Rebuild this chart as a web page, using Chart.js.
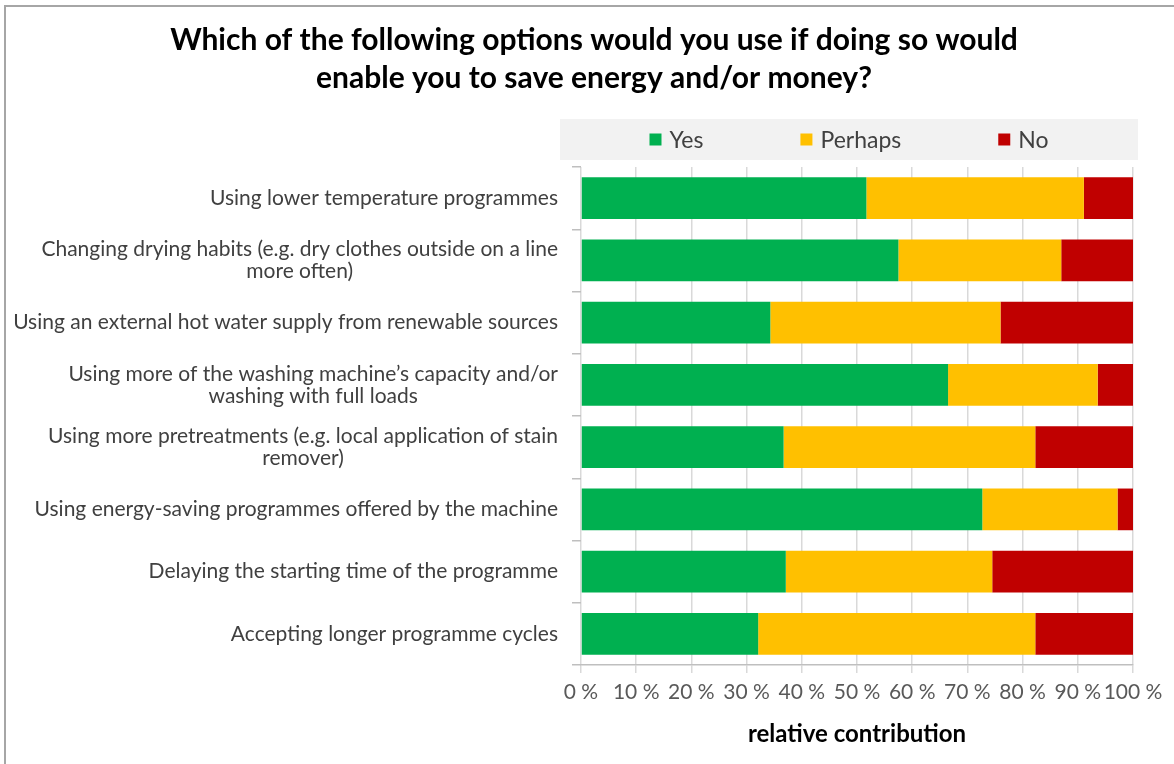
<!DOCTYPE html>
<html>
<head>
<meta charset="utf-8">
<script src="https://cdn.jsdelivr.net/npm/chart.js@4/dist/chart.umd.min.js"></script>
<style>
  html, body { margin: 0; padding: 0; background: #fff; }
  #wrap { width: 1174px; height: 764px; }
</style>
</head>
<body>
<div id="wrap"><canvas id="myChart" width="1174" height="764"></canvas></div>
<script>
const categories = [
    ["Using lower temperature programmes"],
    ["Changing drying habits (e.g. dry clothes outside on a line", "more often)"],
    ["Using an external hot water supply from renewable sources"],
    ["Using more of the washing machine\u2019s capacity and/or", "washing with full loads"],
    ["Using more pretreatments (e.g. local application of stain", "remover)"],
    ["Using energy-saving programmes offered by the machine"],
    ["Delaying the starting time of the programme"],
    ["Accepting longer programme cycles"]
];
const seriesNames = ["Yes", "Perhaps", "No"];
const yesValues = [51.7, 57.5, 34.3, 66.5, 36.7, 72.7, 37.1, 32.1];
const perhapsValues = [39.4, 29.5, 41.7, 27.1, 45.6, 24.5, 37.4, 50.2];
const noValues = [8.9, 13.0, 24.0, 6.4, 17.7, 2.8, 25.5, 17.7];
const xTicks = [0, 10, 20, 30, 40, 50, 60, 70, 80, 90, 100];

const colors = ["#00B050", "#FFC000", "#C00000"];
const FONT = "Lato, 'Liberation Sans', sans-serif";

// frame: only top + left edge visible in the picture
const framePlugin = {
    id: 'frame',
    beforeDraw(chart) {
        const c = chart.ctx;
        c.save();
        c.strokeStyle = '#a6a6a6';
        c.lineWidth = 2;
        c.beginPath();
        c.moveTo(5, 764);
        c.lineTo(5, 6);
        c.lineTo(1174, 6);
        c.stroke();
        c.restore();
    }
};

// legend band with grey fill, items spaced like the original
const bandLegend = {
    id: 'bandLegend',
    beforeDraw(chart) {
        const c = chart.ctx;
        const area = chart.chartArea;
        const left = area.left - 21, right = area.right + 5;
        const top = 119, bottom = 160;
        c.save();
        c.fillStyle = '#f2f2f2';
        c.fillRect(left, top, right - left, bottom - top);
        c.font = '23px ' + FONT;
        c.textBaseline = 'middle';
        const box = 12, gapText = 8, gapItem = 97;
        const widths = chart.data.datasets.map(ds => box + gapText + c.measureText(ds.label).width);
        const total = widths.reduce((a, b) => a + b, 0) + gapItem * (widths.length - 1);
        let x = (left + right) / 2 - total / 2;
        const cy = (top + bottom) / 2;
        chart.data.datasets.forEach((ds, i) => {
            c.fillStyle = ds.backgroundColor;
            c.fillRect(x, cy - box / 2, box, box);
            c.fillStyle = '#404040';
            c.textAlign = 'left';
            c.fillText(ds.label, x + box + gapText, cy + 1);
            x += widths[i] + gapItem;
        });
        c.restore();
    }
};

// category labels: block right aligned, wrapped lines centred on each other
const yLabels = {
    id: 'yLabels',
    afterDraw(chart) {
        const c = chart.ctx;
        const y = chart.scales.y;
        const rightEdge = chart.chartArea.left - 23;
        const lh = 22;
        c.save();
        c.font = '21px ' + FONT;
        c.fillStyle = '#404040';
        c.textBaseline = 'middle';
        c.textAlign = 'center';
        categories.forEach((lines, i) => {
            const cy = y.getPixelForValue(i);
            const w = Math.max(...lines.map(l => c.measureText(l).width));
            const cx = rightEdge - w / 2;
            lines.forEach((l, j) => {
                c.fillText(l, cx, cy + (j - (lines.length - 1) / 2) * lh);
            });
        });
        c.restore();
    }
};

const ctx = document.getElementById('myChart');
new Chart(ctx, {
    type: 'bar',
    data: {
        labels: categories,
        datasets: [
            { label: seriesNames[0], data: yesValues, backgroundColor: colors[0] },
            { label: seriesNames[1], data: perhapsValues, backgroundColor: colors[1] },
            { label: seriesNames[2], data: noValues, backgroundColor: colors[2] }
        ]
    },
    options: {
        indexAxis: 'y',
        responsive: false,
        animation: false,
        barPercentage: 0.67,
        categoryPercentage: 1,
        layout: { padding: { left: 55, right: 41, top: 0, bottom: 15 } },
        plugins: {
            legend: { display: false },
            tooltip: { enabled: false },
            title: {
                display: true,
                text: ["Which of the following options would you use if doing so would",
                       "enable you to save energy and/or money?"],
                color: '#000',
                font: { family: FONT, size: 30, weight: 'bold', lineHeight: 1.267 },
                padding: { top: 21, bottom: 70 }
            }
        },
        scales: {
            x: {
                stacked: true,
                min: 0,
                max: 100,
                afterBuildTicks: scale => { scale.ticks = xTicks.map(v => ({ value: v })); },
                ticks: {
                    callback: v => v + ' %',
                    color: '#595959',
                    font: { family: FONT, size: 21 },
                    padding: 7,
                    maxRotation: 0,
                    autoSkip: false
                },
                grid: { color: '#d9d9d9', tickLength: 8, lineWidth: 1.5 },
                border: { color: '#bfbfbf', width: 1.5 },
                title: {
                    display: true,
                    text: 'relative contribution',
                    color: '#000',
                    font: { family: FONT, size: 24, weight: 'bold' },
                    padding: { top: 8, bottom: 0 }
                }
            },
            y: {
                stacked: true,
                afterFit: scale => { scale.width = 581 - 55; },
                ticks: { display: false },
                grid: { drawOnChartArea: false, offset: true, tickLength: 9, color: '#bfbfbf', lineWidth: 1.5 },
                border: { display: false }
            }
        }
    },
    plugins: [framePlugin, bandLegend, yLabels]
});
</script>
</body>
</html>
